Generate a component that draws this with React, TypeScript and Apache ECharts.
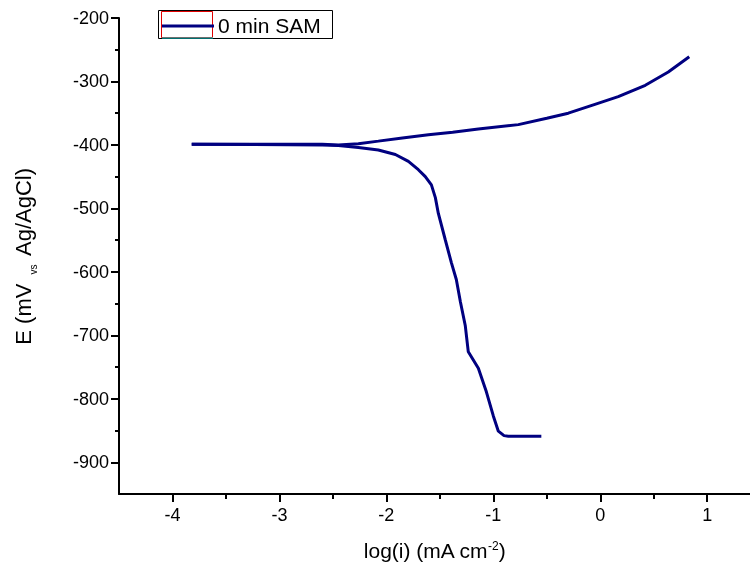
import React, { useEffect, useRef } from "react";
import * as echarts from "echarts";

const anodicLogI = [-3.82, -2.6, -2.449, -2.262, -2.075, -1.85, -1.607, -1.38, -1.14, -0.766, -0.5, -0.299, -0.05, 0.168, 0.421, 0.636, 0.832];
const anodicE = [-399, -399, -400, -398, -394, -389, -384, -380, -375, -368, -358, -350, -336, -324, -306, -285, -261];

const cathodicLogI = [-3.82, -2.6, -2.449, -2.262, -2.075, -1.916, -1.794, -1.701, -1.636, -1.579, -1.542, -1.514, -1.45, -1.393, -1.346, -1.308, -1.262, -1.234, -1.14, -1.065, -1.0, -0.953, -0.9, -0.86, -0.551];
const cathodicE = [-399, -400, -401, -404, -408, -415, -426, -439, -450, -463, -483, -508, -549, -585, -612, -647, -685, -726, -752, -789, -827, -851, -858, -859, -859];

const xMajor = [-4, -3, -2, -1, 0, 1];
const xMinor = [-3.5, -2.5, -1.5, -0.5, 0.5];
const yMajor = [-900, -800, -700, -600, -500, -400, -300, -200];
const yMinor = [-850, -750, -650, -550, -450, -350, -250];

const legendLabel = "0 min SAM";
const FONT = "'Liberation Sans', Arial, sans-serif";

export default function App() {
  const ref = useRef<HTMLDivElement>(null);
  useEffect(() => {
    if (!ref.current) return;
    const chart = echarts.init(ref.current, null, { renderer: "svg" });
    const zip = (a: number[], b: number[]) => a.map((v, i) => [v, b[i]]);
    const lineStyle = { color: "#000", width: 2 };
    chart.setOption({
      animation: false,
      textStyle: { fontFamily: FONT },
      grid: { left: 119, top: 18, right: 0, bottom: 75, containLabel: false },
      xAxis: [
        {
          type: "value",
          min: -4.5,
          max: 1.4,
          position: "bottom",
          axisLine: { onZero: false, lineStyle },
          axisTick: { customValues: xMajor, length: 8, lineStyle },
          axisLabel: { customValues: xMajor, color: "#000", fontSize: 18, margin: 12, fontFamily: FONT },
          splitLine: { show: false },
          name: "log(i) (mA cm{sup|-2})",
          nameLocation: "middle",
          nameGap: 46,
          nameTextStyle: {
            color: "#000",
            fontSize: 21,
            fontFamily: FONT,
            rich: { sup: { fontSize: 12, verticalAlign: "top", color: "#000", fontFamily: FONT } },
          },
        },
        {
          type: "value",
          min: -4.5,
          max: 1.4,
          position: "bottom",
          axisLine: { show: false, onZero: false },
          axisTick: { customValues: xMinor, length: 5, lineStyle },
          axisLabel: { show: false },
          splitLine: { show: false },
        },
      ],
      yAxis: [
        {
          type: "value",
          min: -950,
          max: -200,
          position: "left",
          axisLine: { onZero: false, lineStyle },
          axisTick: { customValues: yMajor, length: 8, lineStyle },
          axisLabel: { customValues: yMajor, color: "#000", fontSize: 18, margin: 10, fontFamily: FONT },
          splitLine: { show: false },
          name: "E (mV {sub|vs} Ag/AgCl)",
          nameLocation: "middle",
          nameGap: 85,
          nameTextStyle: {
            color: "#000",
            fontSize: 22,
            fontFamily: FONT,
            rich: { sub: { fontSize: 10, verticalAlign: "bottom", padding: [0, 3, -4, 3], color: "#000", fontFamily: FONT } },
          },
        },
        {
          type: "value",
          min: -950,
          max: -200,
          position: "left",
          axisLine: { show: false, onZero: false },
          axisTick: { customValues: yMinor, length: 4, lineStyle },
          axisLabel: { show: false },
          splitLine: { show: false },
        },
      ],
      series: [
        {
          type: "line",
          data: zip(cathodicLogI, cathodicE),
          showSymbol: false,
          lineStyle: { color: "#000080", width: 3 },
          itemStyle: { color: "#000080" },
        },
        {
          type: "line",
          data: zip(anodicLogI, anodicE),
          showSymbol: false,
          lineStyle: { color: "#000080", width: 3 },
          itemStyle: { color: "#000080" },
        },
      ],
      graphic: [
        { type: "rect", shape: { x: 158.5, y: 10.5, width: 174, height: 28 }, style: { fill: "#fff", stroke: "#000", lineWidth: 1 } },
        { type: "rect", shape: { x: 161.5, y: 11.5, width: 51, height: 26 }, style: { fill: "none", stroke: "#e00000", lineWidth: 1 } },
        { type: "line", shape: { x1: 162, y1: 38, x2: 213, y2: 38 }, style: { stroke: "#00e0e0", lineWidth: 1 } },
        { type: "line", shape: { x1: 162, y1: 26, x2: 214, y2: 26 }, style: { stroke: "#000080", lineWidth: 3 } },
        { type: "text", x: 218, y: 25, style: { text: legendLabel, fill: "#000", fontSize: 21, fontFamily: FONT, verticalAlign: "middle" } },
      ],
    });
    return () => chart.dispose();
  }, []);
  return <div ref={ref} style={{ position: "fixed", left: 0, top: 0, width: 750, height: 569 }} />;
}
